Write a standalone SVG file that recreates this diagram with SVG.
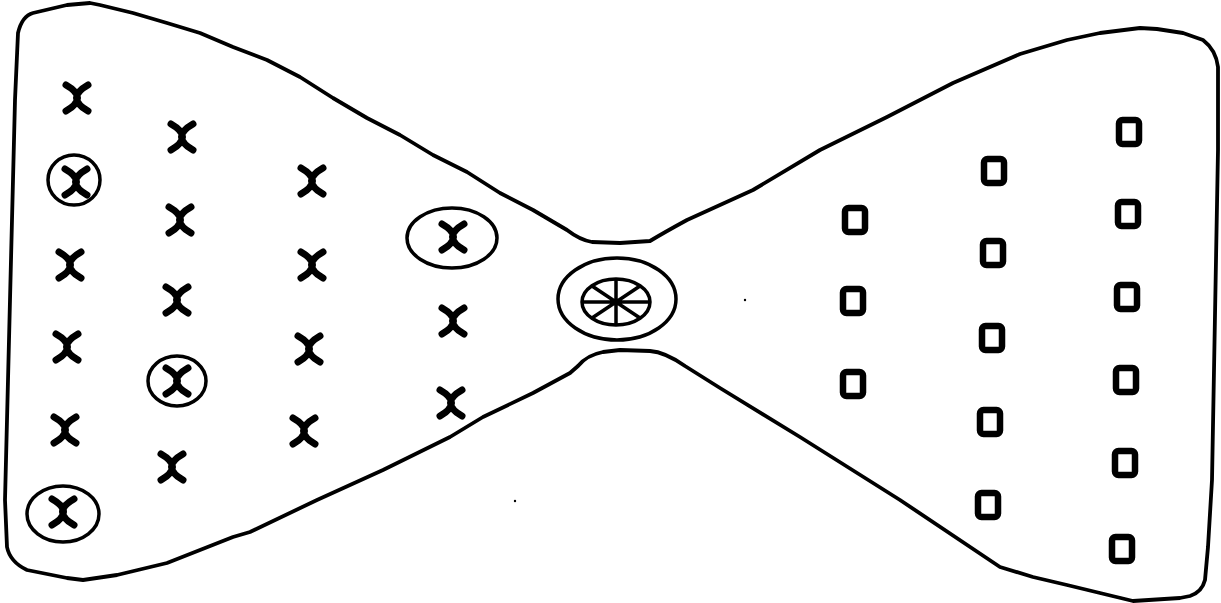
<svg xmlns="http://www.w3.org/2000/svg" xmlns:xlink="http://www.w3.org/1999/xlink" width="1221" height="603" viewBox="0 0 1221 603">
<style>
.line{fill:none;stroke:#000;stroke-width:3.8;stroke-linejoin:round;stroke-linecap:round}
.xm{fill:none;stroke:#000;stroke-width:7;stroke-linecap:round}
.sq{fill:none;stroke:#000;stroke-width:6.5;stroke-linejoin:round}
.ring{fill:none;stroke:#000;stroke-width:3.5}
</style>
<defs>
<path id="x" class="xm" d="M-11,-13 Q12,0 -11,13 M11,-13 Q-12,0 11,13"/>
<rect id="s" class="sq" x="-10" y="-12" width="20" height="24" rx="3.5"/>
</defs>
<rect width="1221" height="603" fill="#fff"/>
<g id="outline">
<path class="line" d="M18,33 Q22,16 33,13 L67,5 L90,3 L100,5 L133,13 L167,23 L200,33 L233,47 L267,60 L300,77 L333,98 L367,118 L400,135 L433,155 L467,172 L500,193 L533,210 L567,230 Q580,240 592,242 L620,243 L650,241 Q665,232 687,220 L753,190 L820,150 L887,117 L953,83 L1020,54 L1067,40 L1100,33 L1140,28 L1157,29 L1183,33 L1203,40 Q1216,50 1218,67 L1218,150 L1212,480 L1208,547 L1205,580 Q1202,592 1190,596 L1180,598 L1133,601 L1100,593 L1067,585 L1033,577 L1000,567 L900,500 L800,437 L720,388 L685,366 Q665,352 650,351 L620,350 L603,352 Q587,355 578,366 L570,373 L533,393 L483,417 L450,437 L383,470 L317,500 L250,532 L233,537 L167,563 L117,575 L83,580 L67,578 L27,570 Q10,562 7,547 L5,500 L10,300 L15,100 Z"/>
</g>
<g id="crosses">
<use xlink:href="#x" x="77" y="98"/>
<use xlink:href="#x" x="76" y="182"/>
<use xlink:href="#x" x="70" y="265"/>
<use xlink:href="#x" x="67" y="347"/>
<use xlink:href="#x" x="65" y="430"/>
<use xlink:href="#x" x="63" y="512"/>
<use xlink:href="#x" x="182" y="137"/>
<use xlink:href="#x" x="180" y="220"/>
<use xlink:href="#x" x="177" y="300"/>
<use xlink:href="#x" x="177" y="381"/>
<use xlink:href="#x" x="172" y="467"/>
<use xlink:href="#x" x="312" y="181"/>
<use xlink:href="#x" x="312" y="265"/>
<use xlink:href="#x" x="309" y="349"/>
<use xlink:href="#x" x="304" y="431"/>
<use xlink:href="#x" x="453" y="237"/>
<use xlink:href="#x" x="453" y="321"/>
<use xlink:href="#x" x="451" y="403"/>
</g>
<g id="rings">
<ellipse class="ring" cx="74" cy="180" rx="26" ry="25"/>
<ellipse class="ring" cx="63" cy="514" rx="36" ry="28"/>
<ellipse class="ring" cx="177" cy="381" rx="29" ry="25"/>
<ellipse class="ring" cx="452" cy="238" rx="45" ry="30"/>
</g>
<g id="center">
<ellipse class="ring" cx="617" cy="299" rx="59" ry="41"/>
<ellipse class="ring" cx="616" cy="302" rx="34" ry="23"/>
<path class="ring" d="M582,302 H650 M616,279 V325 M592,286 L640,318 M592,318 L640,286"/>
</g>
<g id="squares">
<use xlink:href="#s" x="855" y="220"/>
<use xlink:href="#s" x="853" y="301"/>
<use xlink:href="#s" x="853" y="384"/>
<use xlink:href="#s" x="994" y="171"/>
<use xlink:href="#s" x="993" y="253"/>
<use xlink:href="#s" x="992" y="338"/>
<use xlink:href="#s" x="990" y="422"/>
<use xlink:href="#s" x="988" y="505"/>
<use xlink:href="#s" x="1129" y="132"/>
<use xlink:href="#s" x="1128" y="214"/>
<use xlink:href="#s" x="1127" y="297"/>
<use xlink:href="#s" x="1126" y="380"/>
<use xlink:href="#s" x="1125" y="463"/>
<use xlink:href="#s" x="1122" y="549"/>
</g>
<g id="specks">
<circle cx="745" cy="300" r="1.2"/>
<circle cx="515" cy="501" r="1.2"/>
</g>
</svg>
